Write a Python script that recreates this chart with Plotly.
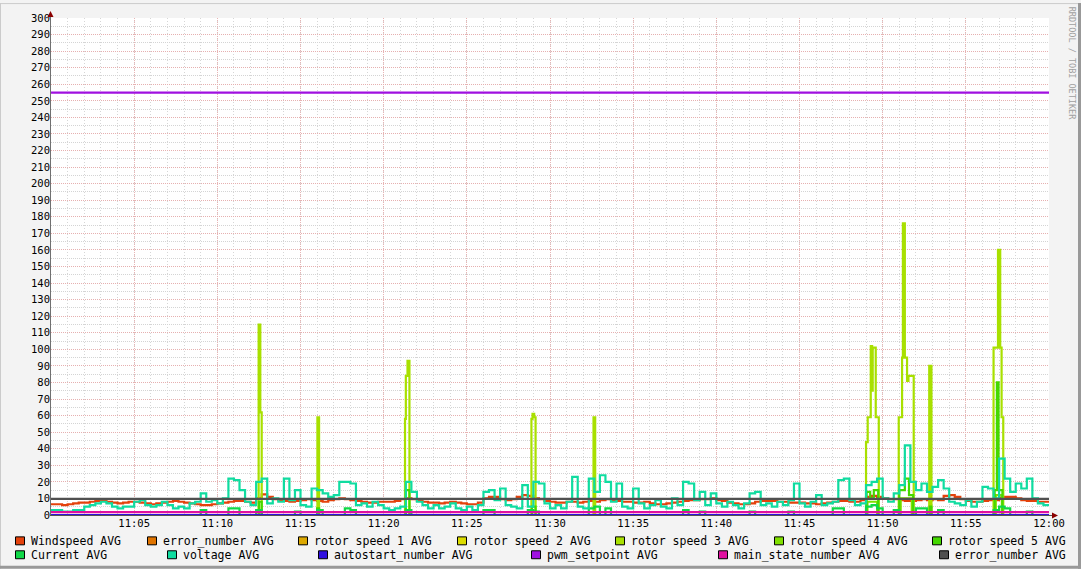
import pandas as pd
import plotly.graph_objects as go

DAY = "2024-01-01 "
START = DAY + "11:00:00"
END = DAY + "12:00:00"

# ---------------- data (20 s samples, 11:00:00 .. 12:00:00) ----------------
sample_times = pd.date_range(START, END, freq="20s")

windspeed = [
    6.5, 6.5, 6, 6.5, 7, 7.5, 7.5, 8, 8.5, 8.5, 8, 7.5, 7, 7.5, 8, 8, 7.5, 7, 6.5, 7,
    7.5, 8, 8.5, 8, 7.5, 7, 6.5, 6, 6, 6.5, 7, 7.5, 8, 8.5, 8.5, 8, 7.5, 10, 12.5, 11,
    9.5, 9, 8.5, 8, 8.5, 9, 9.5, 9, 8.5, 8, 9, 9.5, 10, 9.5, 9, 8.5, 8, 7.5, 7.5, 8,
    8, 8, 8.5, 9.5, 10, 9.5, 8.5, 8, 7.5, 7.5, 7, 7.5, 8, 7.5, 7, 6.5, 6.5, 7.5, 10, 11,
    11, 9.5, 9, 9.5, 11, 12, 11.5, 10, 9.5, 8.5, 8, 7.5, 7.5, 8, 8, 7.5, 8, 8.5, 8, 9,
    9.5, 9, 8.5, 8, 8, 7.5, 7.5, 8, 7, 6.5, 6.5, 7, 7.5, 8, 8.5, 9, 9, 9.5, 9.5, 10,
    9, 8.5, 7.5, 7, 6.5, 6.5, 7, 8, 8.5, 8.5, 8.5, 8, 8, 7.5, 7.5, 7.5, 7, 7, 6.5, 7,
    7.5, 8, 8.5, 8.5, 8, 8, 9, 11, 11.5, 11, 10, 9.5, 9.5, 9, 8.5, 8.5, 9, 9.5, 9, 9.5,
    9, 11.5, 12, 11, 9.5, 8.5, 8, 8, 8.5, 9, 9, 10.5, 11, 11, 10, 9, 8.5, 8.5, 8, 8,
    8,
]

voltage = [
    3, 3, 2, 2, 3, 3, 5, 6, 7, 8, 7, 5, 4, 5, 5, 8, 9, 6, 5, 6,
    8, 6, 4, 5, 4, 7, 8, 13, 8, 9, 7, 10, 22, 21, 15, 8, 6, 20, 22, 7,
    10, 8, 22, 9, 15, 6, 5, 16, 15, 13, 11, 12, 20, 20, 19, 6, 7, 5, 8, 6,
    4, 3, 4, 5, 20, 14, 8, 6, 4, 6, 4, 5, 7, 4, 3, 5, 3, 6, 14, 15,
    9, 16, 6, 5, 4, 18, 5, 20, 19, 7, 4, 6, 4, 8, 23, 5, 4, 22, 14, 24,
    20, 8, 19, 5, 4, 16, 7, 4, 6, 9, 5, 4, 10, 6, 20, 19, 9, 14, 6, 13,
    7, 5, 8, 6, 4, 7, 13, 14, 6, 7, 5, 8, 6, 9, 19, 7, 5, 8, 12, 6,
    7, 8, 21, 22, 9, 6, 7, 18, 20, 22, 10, 8, 13, 18, 42, 20, 15, 19, 14, 17,
    21, 16, 8, 7, 6, 9, 5, 8, 17, 16, 10, 34, 22, 14, 19, 16, 22, 10, 7, 6,
    6,
]

current = [
    0, 0, 0, 0, 0, 0, 0, 0, 0, 0,
    0, 0, 0, 0, 0, 0, 0, 0, 0, 0,
    0, 0, 0, 0, 0, 0, 0, 3, 0, 0,
    0, 0, 4, 4, 0, 0, 0, 3, 0, 0,
    0, 0, 0, 0, 2, 0, 0, 0, 3, 0,
    0, 0, 0, 4, 3, 0, 0, 0, 0, 0,
    0, 0, 0, 0, 3, 0, 0, 0, 0, 0,
    0, 0, 0, 0, 0, 0, 0, 0, 3, 3,
    0, 0, 0, 0, 0, 0, 3, 2, 0, 0,
    0, 0, 0, 0, 0, 0, 0, 4, 5, 0,
    4, 0, 0, 0, 0, 0, 0, 0, 0, 0,
    0, 0, 0, 0, 3, 0, 0, 2, 0, 0,
    0, 0, 0, 0, 0, 0, 2, 0, 0, 0,
    0, 0, 0, 2, 0, 0, 0, 0, 0, 0,
    0, 4, 4, 0, 0, 0, 0, 5, 6, 4,
    0, 0, 3, 0, 0, 0, 4, 4, 0, 0,
    3, 0, 0, 0, 0, 0, 0, 0, 0, 0,
    3, 5, 4, 0, 0, 0, 2, 0, 0, 0,
    0,
]

rotor3_times = ["11:00:00", "11:12:29", "11:12:35", "11:12:40", "11:16:01", "11:16:07",
                "11:21:17", "11:21:20", "11:21:26", "11:21:33", "11:28:53", "11:28:57",
                "11:29:03", "11:29:08", "11:32:37", "11:32:43", "11:49:00", "11:49:06",
                "11:49:17", "11:49:22", "11:49:24", "11:49:35", "11:49:46", "11:50:58",
                "11:51:10", "11:51:13", "11:51:20", "11:51:28", "11:51:33", "11:51:52",
                "11:52:48", "11:52:56", "11:56:40", "11:56:56", "11:57:04", "11:57:09",
                "11:57:15", "12:00:00"]
rotor3_values = [0, 115, 62, 0, 59, 0, 58, 84, 93, 0, 58, 61, 59, 0, 59, 0, 44, 59, 102, 75,
                 101, 59, 0, 59, 95, 176, 95, 81, 84, 0, 90, 0, 101, 160, 101, 59, 0, 0]

rotor4_times = ["11:00:00", "11:49:05", "11:49:40", "11:51:05", "11:51:45", "11:56:48",
                "11:57:10", "12:00:00"]
rotor4_values = [0, 8, 0, 10, 0, 12, 0, 0]

rotor5_times = ["11:00:00", "11:12:30", "11:12:40", "11:16:00", "11:16:07", "11:21:20",
                "11:21:33", "11:28:55", "11:29:08", "11:49:02", "11:49:15", "11:49:28",
                "11:49:44", "11:51:00", "11:51:20", "11:51:35", "11:51:50", "11:52:50",
                "11:52:56", "11:56:44", "11:56:52", "11:56:58", "11:57:12", "12:00:00"]
rotor5_values = [0, 8, 0, 4, 0, 15, 0, 5, 0, 14, 10, 15, 0, 15, 22, 12, 0, 5, 0, 15, 80, 15, 0, 0]

const_times = ["11:00:00", "12:00:00"]
error_number_a = [0, 0]
rotor1 = [0, 0]
rotor2 = [0, 0]
autostart_number = [0, 0]
pwm_setpoint = [255, 255]
main_state_number = [1.7, 1.7]
error_number_b = [9.7, 9.7]

y_tick_values = list(range(0, 301, 10))
x_tick_labels = ["11:05", "11:10", "11:15", "11:20", "11:25", "11:30",
                 "11:35", "11:40", "11:45", "11:50", "11:55", "12:00"]

def ts(lst):
    return [pd.Timestamp(DAY + t) for t in lst]

series = [
    ("Windspeed AVG", list(sample_times), windspeed, "#E4420C"),
    ("error_number AVG", ts(const_times), error_number_a, "#E07400"),
    ("rotor speed 1 AVG", ts(const_times), rotor1, "#DCA800"),
    ("rotor speed 2 AVG", ts(const_times), rotor2, "#DCDC00"),
    ("rotor speed 3 AVG", ts(rotor3_times), rotor3_values, "#A8E000"),
    ("rotor speed 4 AVG", ts(rotor4_times), rotor4_values, "#80E000"),
    ("rotor speed 5 AVG", ts(rotor5_times), rotor5_values, "#44D800"),
    ("Current AVG", list(sample_times), current, "#10D848"),
    ("voltage AVG", list(sample_times), voltage, "#10DCA0"),
    ("autostart_number AVG", ts(const_times), autostart_number, "#3010E0"),
    ("pwm_setpoint AVG", ts(const_times), pwm_setpoint, "#A010E0"),
    ("main_state_number AVG", ts(const_times), main_state_number, "#E010A0"),
    ("error_number AVG", ts(const_times), error_number_b, "#505050"),
]

# ---------------- layout geometry ----------------
W, H = 1081, 569
L, R, T, B = 51, 32, 15, 54
PW, PH = W - L - R, H - T - B

def px(x):
    return (x - L) / PW

def py(y):
    return (H - B - y) / PH

fig = go.Figure()
for name, x, y, color in series:
    fig.add_trace(go.Scatter(x=x, y=y, mode="lines", name=name,
                             line=dict(color=color, width=2.2, shape="hv"),
                             showlegend=False, hoverinfo="skip"))

MONO = "DejaVu Sans Mono"
fig.update_layout(
    width=W, height=H, autosize=False,
    margin=dict(l=L, r=R, t=T, b=B, pad=0),
    paper_bgcolor="#F3F3F3", plot_bgcolor="#FFFFFF",
    font=dict(family=MONO, size=10, color="#000000"),
    xaxis=dict(
        type="date", range=[pd.Timestamp(START), pd.Timestamp(END)],
        tickmode="array",
        tickvals=[pd.Timestamp(DAY + t) for t in x_tick_labels],
        ticktext=x_tick_labels,
        showgrid=True, gridcolor="#E8B4B4", griddash="1px,1px", gridwidth=1,
        minor=dict(dtick=60000, tick0=START, showgrid=True, gridcolor="#D6D6D6",
                   griddash="1px,2px", ticks=""),
        showline=False, zeroline=False, ticks="", tickfont=dict(family=MONO, size=10.5),
    ),
    yaxis=dict(
        range=[0, 300], tickmode="array", tickvals=y_tick_values,
        ticktext=[str(v) for v in y_tick_values],
        showgrid=True, gridcolor="#E6B0B0", griddash="1px,1px", gridwidth=1,
        minor=dict(dtick=5, tick0=0, showgrid=True, gridcolor="#D4D4D4",
                   griddash="1px,1px", ticks=""),
        showline=False, zeroline=False, ticks="", tickfont=dict(family=MONO, size=10.5),
    ),
)

shapes = []
# axis lines
shapes.append(dict(type="line", xref="paper", yref="paper", x0=px(50.5), x1=px(50.5),
                   y0=py(515), y1=py(11), line=dict(color="#707070", width=1)))
shapes.append(dict(type="line", xref="paper", yref="paper", x0=px(50), x1=px(1054),
                   y0=py(515.5), y1=py(515.5), line=dict(color="#505050", width=1)))
# arrows
shapes.append(dict(type="path", xref="paper", yref="paper",
                   path=f"M {px(47.5)} {py(14)} L {px(53.5)} {py(14)} L {px(50.5)} {py(8)} Z",
                   fillcolor="#8B0000", line=dict(color="#8B0000", width=0)))
shapes.append(dict(type="path", xref="paper", yref="paper",
                   path=f"M {px(1052)} {py(512.5)} L {px(1052)} {py(518.5)} L {px(1058)} {py(515.5)} Z",
                   fillcolor="#8B0000", line=dict(color="#8B0000", width=0)))
# outer 3D frame
shapes.append(dict(type="line", xref="paper", yref="paper", x0=px(0), x1=px(W),
                   y0=py(0.5), y1=py(0.5), line=dict(color="#CBCBCB", width=1)))
shapes.append(dict(type="line", xref="paper", yref="paper", x0=px(0.5), x1=px(0.5),
                   y0=py(0), y1=py(H), line=dict(color="#CBCBCB", width=1)))
shapes.append(dict(type="line", xref="paper", yref="paper", x0=px(0), x1=px(W),
                   y0=py(H - 1.5), y1=py(H - 1.5), line=dict(color="#999999", width=3)))
shapes.append(dict(type="line", xref="paper", yref="paper", x0=px(W - 1.5), x1=px(W - 1.5),
                   y0=py(0), y1=py(H), line=dict(color="#999999", width=3)))

# legend (rrdtool style)
legend_rows = [
    (541, [15, 147, 298, 457, 615, 774, 932]),
    (555, [15, 167, 318, 531, 718, 939]),
]
annotations = []
k = 0
for yc, xs in legend_rows:
    for xs0 in xs:
        name, _, _, color = series[k]
        k += 1
        shapes.append(dict(type="rect", xref="paper", yref="paper",
                           x0=px(xs0 + 0.5), x1=px(xs0 + 9.5), y0=py(yc - 4), y1=py(yc + 4),
                           fillcolor=color, line=dict(color="#000000", width=1)))
        annotations.append(dict(text=name, xref="paper", yref="paper", x=px(xs0 + 14),
                                y=py(yc), xanchor="left", yanchor="middle", showarrow=False,
                                font=dict(family=MONO, size=11.5, color="#000000")))

annotations.append(dict(text="RRDTOOL / TOBI OETIKER", xref="paper", yref="paper",
                        x=px(1072), y=py(60), xanchor="center", yanchor="middle",
                        textangle=90, showarrow=False,
                        font=dict(family=MONO, size=8.5, color="#A0A0A0")))

fig.update_layout(shapes=shapes, annotations=annotations)

fig.write_html("out.html", config={"displayModeBar": False},
               post_script="document.body.style.margin='0';document.body.style.overflow='hidden';")
